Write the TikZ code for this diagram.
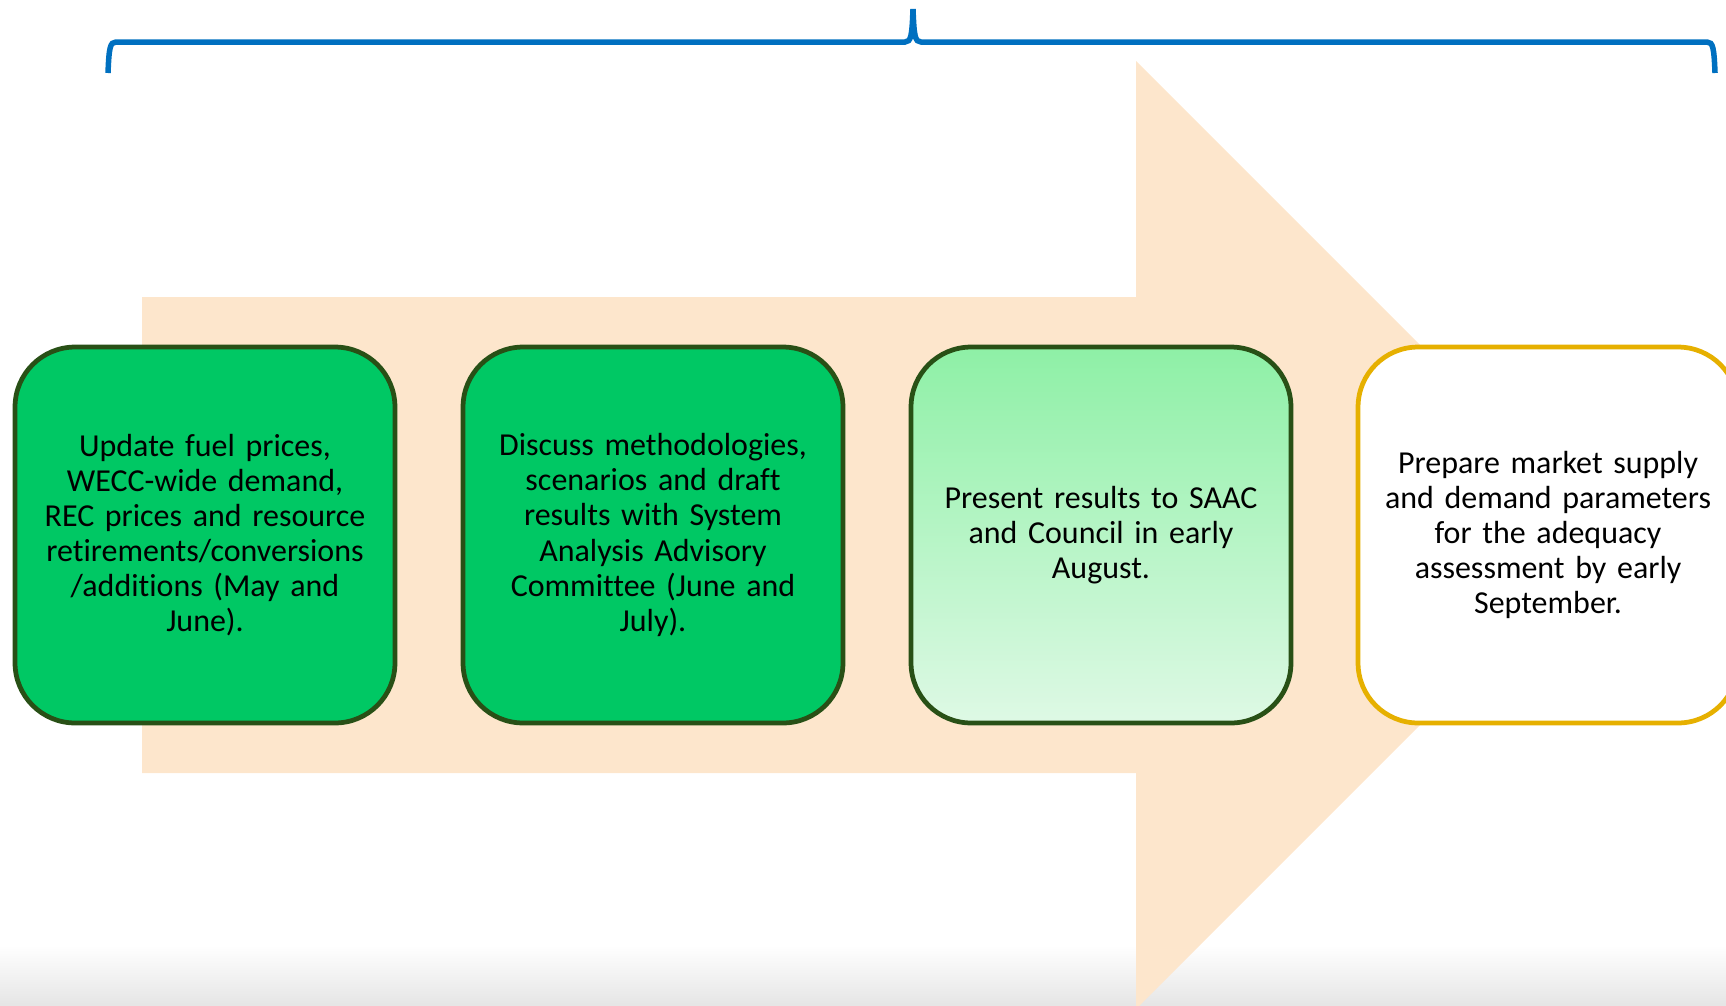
\documentclass[tikz,border=0pt]{standalone}
\usepackage{fontspec}
\setmainfont{Carlito}[Ligatures=NoCommon]
\usepackage{tikz}
\usetikzlibrary{shapes,positioning,calc}
\definecolor{braceblue}{RGB}{0,112,192}
\definecolor{bandpeach}{RGB}{253,230,204}
\definecolor{stepgreen}{RGB}{0,200,100}
\definecolor{steplight}{RGB}{142,240,166}
\definecolor{steppale}{RGB}{222,249,229}
\definecolor{stepborder}{RGB}{40,80,22}
\definecolor{stepgold}{RGB}{230,176,0}
\tikzset{
    stage/.style={rectangle, rounded corners=1.2cm, line width=0.095cm, minimum width=7.6cm, minimum height=7.52cm, text width=7.2cm, align=center, font=\fontsize{18.2}{20}\selectfont},
    donestage/.style={stage, draw=stepborder, fill=stepgreen},
    nowstage/.style={stage, draw=stepborder, top color=steplight, bottom color=steppale},
    nextstage/.style={stage, draw=stepgold, fill=white},
    bracket/.style={line width=0.11cm, draw=braceblue}
}
\begin{document}
\begin{tikzpicture}[x=0.02cm, y=-0.02cm]
    \useasboundingbox (0,0) rectangle (1726,1005);
    % Floor shading
    \shade[top color=white, bottom color=black!10] (0,945) rectangle (1726,1005);
    % Timeline arrow
    \fill[bandpeach] (142,297) -- (1136,297) -- (1136,61) -- (1610,535)
        -- (1136,1009) -- (1136,773) -- (142,773) -- cycle;
    % Stages
    \node[donestage] (fuel) at (205,535) {Update fuel prices,\\ WECC-wide demand,\\ REC prices and resource\\ retirements/conversions\\ /additions (May and\\ June).};
    \node[donestage] (saac) at (653,535) {Discuss methodologies,\\ scenarios and draft\\ results with System\\ Analysis Advisory\\ Committee (June and\\ July).};
    \node[nowstage] (council) at (1101,535) {Present results to SAAC\\ and Council in early\\ August.};
    \node[nextstage] (adequacy) at (1548,535) {Prepare market supply\\ and demand parameters\\ for the adequacy\\ assessment by early\\ September.};
    % Brace over all stages
    \draw[bracket] (108,73) .. controls (109,48) and (110,42) .. (116,42) -- (905,42)
        .. controls (911,42) and (912,36) .. (913,9) .. controls (914,36) and (915,42) .. (921,42)
        -- (1707,42) .. controls (1713,42) and (1714,48) .. (1715,73);
\end{tikzpicture}
\end{document}
